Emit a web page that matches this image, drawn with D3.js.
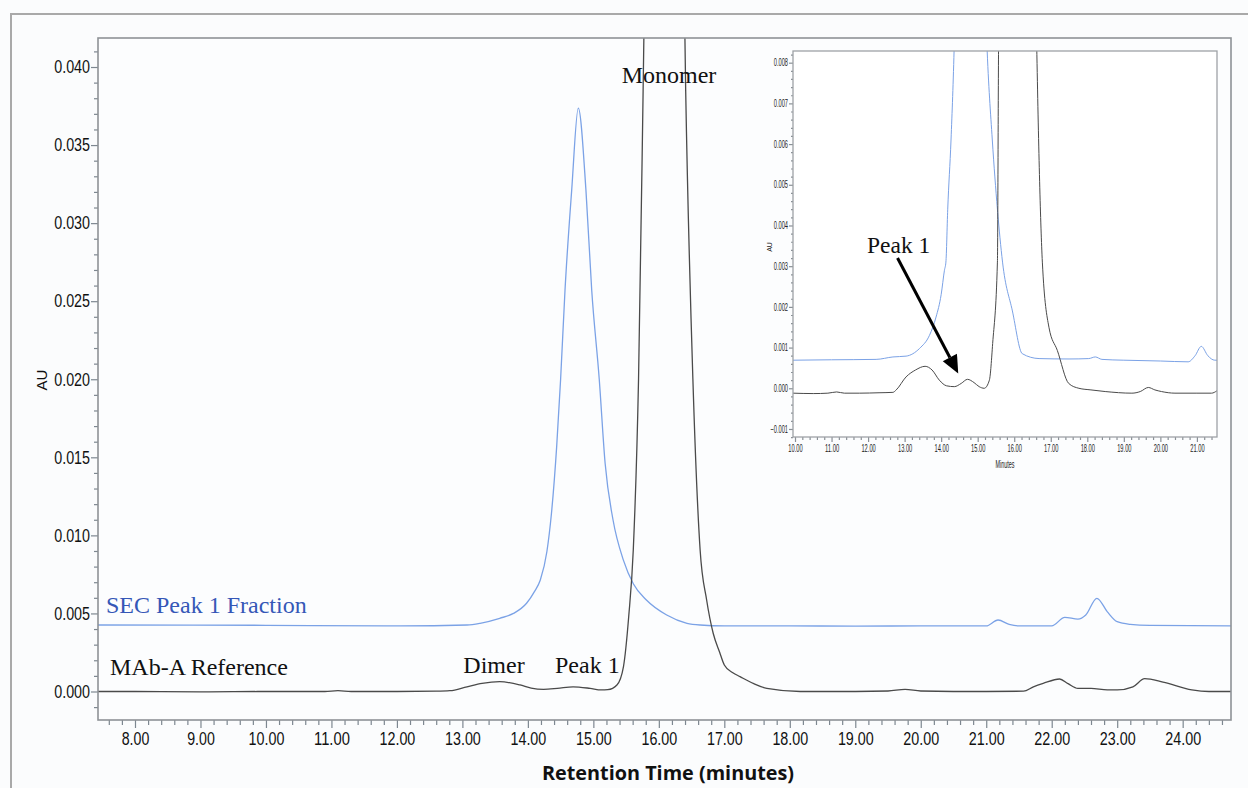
<!DOCTYPE html>
<html><head><meta charset="utf-8">
<script src="https://cdn.jsdelivr.net/npm/d3@7"></script>
<style>
html,body{margin:0;padding:0;background:#fbfcfd;}
svg{display:block;}
</style></head><body>
<svg id="chart" width="1248" height="788"></svg>
<script>
// ---------- DATA (main chromatogram) ----------
const refTime = [7.435, 8.0, 9.0, 10.0, 10.9, 11.1, 11.3, 12.0, 12.6, 12.81, 13.07, 13.3, 13.57, 13.88, 14.05, 14.24, 14.45, 14.69, 14.95, 15.12, 15.22, 15.36, 15.46, 15.54, 15.61, 15.69, 15.76, 15.85, 16.08, 16.32, 16.41, 16.52, 16.63, 16.73, 16.83, 16.93, 17.0, 17.13, 17.24, 17.45, 17.65, 18.16, 19.0, 19.5, 19.76, 20.0, 20.5, 21.0, 21.57, 21.72, 21.87, 22.12, 22.25, 22.4, 22.6, 22.85, 23.0, 23.24, 23.42, 23.7, 24.14, 24.4, 24.74];
const refAU   = [0.0, 0.0, -0.00002, 0.0, 0.0, 0.00005, 0.0, 0.0, 0.00002, 0.00005, 0.0003, 0.00052, 0.00063, 0.00042, 0.00022, 0.00014, 0.0002, 0.0003, 0.0002, 0.0001, 0.00012, 0.00042, 0.0016, 0.0048, 0.0091, 0.0200, 0.0385, 0.065, 0.11, 0.065, 0.0385, 0.0200, 0.0091, 0.00586, 0.00373, 0.0025, 0.0017, 0.0012, 0.00095, 0.0005, 0.0002, 0.0, 0.0, 0.00003, 0.00014, 0.00003, 0.0, 0.0, 0.00002, 0.0003, 0.00052, 0.0008, 0.0005, 0.0002, 0.0002, 0.0001, 0.0001, 0.0003, 0.00082, 0.0006, 0.0001, 0.0, 0.0];

const fracTime = [7.435, 10.0, 12.05, 13.07, 13.27, 13.57, 13.78, 13.98, 14.1, 14.19, 14.29, 14.36, 14.44, 14.50, 14.567, 14.669, 14.77, 14.887, 14.975, 15.09, 15.18, 15.30, 15.46, 15.61, 15.81, 16.12, 16.43, 16.63, 17.0, 18.0, 19.0, 20.0, 21.0, 21.18, 21.35, 21.5, 22.0, 22.2, 22.4, 22.52, 22.69, 22.85, 23.0, 23.2, 23.5, 24.74];
const fracAU   = [0.00426, 0.00424, 0.0042, 0.00426, 0.00437, 0.00469, 0.0050, 0.00565, 0.0064, 0.00714, 0.00895, 0.0114, 0.0157, 0.0200, 0.0257, 0.0321, 0.03736, 0.0321, 0.0257, 0.0200, 0.0146, 0.0110, 0.0084, 0.0069, 0.00586, 0.0049, 0.00437, 0.00426, 0.0042, 0.0042, 0.00419, 0.0042, 0.0042, 0.00458, 0.0043, 0.0042, 0.0042, 0.00475, 0.00464, 0.0049, 0.00597, 0.0051, 0.00447, 0.0043, 0.00423, 0.0042];

// ---------- DATA (inset) ----------
const insetRefTime = [9.945, 10.5, 10.9, 11.14, 11.35, 11.77, 12.3, 12.68, 12.77, 13.04, 13.3, 13.56, 13.75, 13.95, 14.15, 14.36, 14.55, 14.72, 14.9, 15.04, 15.18, 15.32, 15.41, 15.54, 15.57, 15.62, 16.1, 16.55, 16.62, 16.77, 16.95, 17.18, 17.49, 17.77, 18.1, 18.49, 19.22, 19.45, 19.67, 19.85, 20.03, 20.4, 21.0, 21.4, 21.55];
const insetRefAU   = [-0.00012, -0.00013, -0.00012, -0.00009, -0.00012, -0.00012, -0.00011, -0.0001, -0.00004, 0.00028, 0.00045, 0.00054, 0.00045, 0.0002, 0.00006, 0.00004, 0.00012, 0.00022, 0.00014, 0.00004, 0.0, 0.0002, 0.0011, 0.0031, 0.0082, 0.012, 0.1, 0.012, 0.0082, 0.0031, 0.0015, 0.00093, 0.00012, 0.0, -0.00004, -0.00008, -0.00012, -0.00008, 0.00002, -0.00004, -0.00008, -0.00012, -0.00012, -0.00012, -0.00006];

const insetFracTime = [9.945, 11.0, 12.22, 12.68, 13.04, 13.41, 13.68, 13.86, 14.0, 14.09, 14.13, 14.18, 14.27, 14.36, 14.5, 14.78, 15.05, 15.25, 15.40, 15.54, 15.68, 15.95, 16.22, 16.68, 17.5, 18.04, 18.22, 18.4, 19.0, 20.0, 20.76, 20.95, 21.12, 21.3, 21.49, 21.55];
const insetFracAU   = [0.00069, 0.0007, 0.00071, 0.00077, 0.00079, 0.00098, 0.0013, 0.00175, 0.0023, 0.0029, 0.0031, 0.0044, 0.0061, 0.0085, 0.015, 0.034, 0.015, 0.0085, 0.0061, 0.0044, 0.0031, 0.0019, 0.00085, 0.00073, 0.00072, 0.00073, 0.00077, 0.00071, 0.00069, 0.00067, 0.00065, 0.0008, 0.00103, 0.0008, 0.00069, 0.00069];

// ---------- TICKS ----------
const xTickValues = [8, 9, 10, 11, 12, 13, 14, 15, 16, 17, 18, 19, 20, 21, 22, 23, 24];
const yTickValues = [0.000, 0.005, 0.010, 0.015, 0.020, 0.025, 0.030, 0.035, 0.040];
const insetXTickValues = [10, 11, 12, 13, 14, 15, 16, 17, 18, 19, 20, 21];
const insetYTickValues = [-0.001, 0.000, 0.001, 0.002, 0.003, 0.004, 0.005, 0.006, 0.007, 0.008];

// ---------- LABELS ----------
const mainLabels = [
  {text: "SEC Peak 1 Fraction", t: 7.557, au: 0.00503, color: "#3557b7"},
  {text: "MAb-A Reference", t: 7.618, au: 0.00106, color: "#111"},
  {text: "Dimer", t: 13.014, au: 0.00117, color: "#111"},
  {text: "Peak 1", t: 14.414, au: 0.00117, color: "#111"},
  {text: "Monomer", t: 15.433, au: 0.0390, color: "#111"}
];
const insetLabel = {text: "Peak 1", t: 11.97, au: 0.00333};
const insetArrow = {from: [12.806, 0.0032], to: [14.468, 0.000366]};

// ---------- LAYOUT ----------
const svg = d3.select("#chart");
const M = {left: 98, top: 38, right: 1231, bottom: 720};
const I = {left: 793, top: 51, right: 1217, bottom: 437};
const lineBlack = "#4a4a4a", lineBlue = "#7ba2e6", frameCol = "#8e9296";

svg.append("rect").attr("width", 1248).attr("height", 788).attr("fill", "#fbfcfd");
// outer figure border
svg.append("path").attr("d", "M11,788 L11,14 L1248,14").attr("fill", "none").attr("stroke", "#a9a9a9").attr("stroke-width", 2);

const x = d3.scaleLinear().domain([7.435, 24.738]).range([M.left, M.right]);
const y = d3.scaleLinear().domain([-0.001826, 0.041858]).range([M.bottom, M.top]);

svg.append("rect").attr("x", M.left).attr("y", M.top).attr("width", M.right - M.left).attr("height", M.bottom - M.top).attr("fill", "#fcfdfe");

const defs = svg.append("defs");
defs.append("clipPath").attr("id", "mainClip").append("rect")
  .attr("x", M.left).attr("y", M.top).attr("width", M.right - M.left).attr("height", M.bottom - M.top);
defs.append("clipPath").attr("id", "insetClip").append("rect")
  .attr("x", I.left).attr("y", I.top).attr("width", I.right - I.left).attr("height", I.bottom - I.top);

const mainLine = d3.line().x(d => x(d[0])).y(d => y(d[1])).curve(d3.curveMonotoneX);
const gMain = svg.append("g").attr("clip-path", "url(#mainClip)");
gMain.append("path").datum(fracTime.map((t, i) => [t, fracAU[i]]))
  .attr("d", mainLine).attr("fill", "none").attr("stroke", lineBlue).attr("stroke-width", 1.3);
gMain.append("path").datum(refTime.map((t, i) => [t, refAU[i]]))
  .attr("d", mainLine).attr("fill", "none").attr("stroke", lineBlack).attr("stroke-width", 1.3);

// main axes
function styleAxis(g, col) {
  g.select(".domain").remove();
  g.selectAll("line").attr("stroke", col).attr("stroke-width", 1.2);
}
const xMinor = d3.range(7.6, 24.7, 0.2).filter(v => Math.abs(v - Math.round(v)) > 0.01);
const gxMinor = svg.append("g").attr("transform", `translate(0,${M.bottom})`)
  .call(d3.axisBottom(x).tickValues(xMinor).tickSize(5).tickFormat(""));
styleAxis(gxMinor, "#7d8790");
const gx = svg.append("g").attr("transform", `translate(0,${M.bottom})`)
  .call(d3.axisBottom(x).tickValues(xTickValues).tickSize(8).tickPadding(4).tickFormat(d3.format(".2f")));
styleAxis(gx, "#7d8790");
gx.selectAll("text").attr("font-family", "'Liberation Sans', Arial, sans-serif").attr("font-size", 18).attr("fill", "#111")
  .attr("textLength", function() { const s = this.textContent; return (s.length - 1) * 8.2 + 3; })
  .attr("lengthAdjust", "spacingAndGlyphs");

const yMinor = d3.range(-0.001, 0.0415, 0.001).filter(v => Math.abs(v / 0.005 - Math.round(v / 0.005)) > 0.01);
const gyMinor = svg.append("g").attr("transform", `translate(${M.left},0)`)
  .call(d3.axisLeft(y).tickValues(yMinor).tickSize(4).tickFormat(""));
styleAxis(gyMinor, "#7d8790");
const gy = svg.append("g").attr("transform", `translate(${M.left},0)`)
  .call(d3.axisLeft(y).tickValues(yTickValues).tickSize(7).tickPadding(1).tickFormat(d3.format(".3f")));
styleAxis(gy, "#7d8790");
gy.selectAll("text").attr("font-family", "'Liberation Sans', Arial, sans-serif").attr("font-size", 18).attr("fill", "#111")
  .attr("textLength", function() { const s = this.textContent; return (s.length - 1) * 8.2 + 3; })
  .attr("lengthAdjust", "spacingAndGlyphs");

// main frame
svg.append("rect").attr("x", M.left).attr("y", M.top).attr("width", M.right - M.left).attr("height", M.bottom - M.top)
  .attr("fill", "none").attr("stroke", frameCol).attr("stroke-width", 1.6);

// axis titles
svg.append("text").attr("x", 668).attr("y", 780).attr("text-anchor", "middle")
  .attr("font-family", "'Open Sans', sans-serif").attr("font-weight", "bold").attr("font-size", 20).attr("fill", "#111")
  .attr("textLength", 252).attr("lengthAdjust", "spacingAndGlyphs").text("Retention Time (minutes)");
svg.append("text").attr("transform", "translate(47,380) rotate(-90)").attr("text-anchor", "middle")
  .attr("font-family", "'Liberation Sans', Arial, sans-serif").attr("font-size", 15).attr("fill", "#111").text("AU");

// annotations
svg.selectAll("text.ann").data(mainLabels).join("text").attr("class", "ann")
  .attr("x", d => x(d.t)).attr("y", d => y(d.au))
  .attr("font-family", "'Liberation Serif', 'Times New Roman', serif").attr("font-size", 24)
  .attr("fill", d => d.color).text(d => d.text);

// ---------- INSET ----------
const xi = d3.scaleLinear().domain([9.945, 21.55]).range([I.left, I.right]);
const yi = d3.scaleLinear().domain([-0.001197, 0.008287]).range([I.bottom, I.top]);
svg.append("rect").attr("x", I.left).attr("y", I.top).attr("width", I.right - I.left).attr("height", I.bottom - I.top).attr("fill", "#ffffff");

const insetLine = d3.line().x(d => xi(d[0])).y(d => yi(d[1])).curve(d3.curveMonotoneX);
const gIn = svg.append("g").attr("clip-path", "url(#insetClip)");
gIn.append("path").datum(insetFracTime.map((t, i) => [t, insetFracAU[i]]))
  .attr("d", insetLine).attr("fill", "none").attr("stroke", lineBlue).attr("stroke-width", 1);
gIn.append("path").datum(insetRefTime.map((t, i) => [t, insetRefAU[i]]))
  .attr("d", insetLine).attr("fill", "none").attr("stroke", lineBlack).attr("stroke-width", 1);

const ixMinor = d3.range(10.0, 21.55, 0.2).filter(v => Math.abs(v - Math.round(v)) > 0.01);
const gixm = svg.append("g").attr("transform", `translate(0,${I.bottom})`)
  .call(d3.axisBottom(xi).tickValues(ixMinor).tickSize(3).tickFormat(""));
styleAxis(gixm, "#8a9096");
const gix = svg.append("g").attr("transform", `translate(0,${I.bottom})`)
  .call(d3.axisBottom(xi).tickValues(insetXTickValues).tickSize(5).tickPadding(3).tickFormat(d3.format(".2f")));
styleAxis(gix, "#8a9096");
gix.selectAll("text").attr("font-family", "'Liberation Sans', Arial, sans-serif").attr("font-size", 10).attr("fill", "#222")
  .attr("textLength", function() { const s = this.textContent; return (s.length - 1) * 3.2 + 1.5; })
  .attr("lengthAdjust", "spacingAndGlyphs");

const iyMinor = d3.range(-0.0012, 0.0083, 0.0002).filter(v => Math.abs(v / 0.001 - Math.round(v / 0.001)) > 0.01);
const giym = svg.append("g").attr("transform", `translate(${I.left},0)`)
  .call(d3.axisLeft(yi).tickValues(iyMinor).tickSize(2).tickFormat(""));
styleAxis(giym, "#8a9096");
const giy = svg.append("g").attr("transform", `translate(${I.left},0)`)
  .call(d3.axisLeft(yi).tickValues(insetYTickValues).tickSize(4).tickPadding(1).tickFormat(d3.format(".3f")));
styleAxis(giy, "#8a9096");
giy.selectAll("text").attr("font-family", "'Liberation Sans', Arial, sans-serif").attr("font-size", 10).attr("fill", "#222")
  .attr("textLength", function() { const s = this.textContent.replace("\u2212", "-"); return (s.length - 1) * 3.2 + 1.5 + (s[0] === "-" || this.textContent[0] === "\u2212" ? 0 : 0); })
  .attr("lengthAdjust", "spacingAndGlyphs");

svg.append("rect").attr("x", I.left).attr("y", I.top).attr("width", I.right - I.left).attr("height", I.bottom - I.top)
  .attr("fill", "none").attr("stroke", "#9ea2a6").attr("stroke-width", 1.3);

svg.append("text").attr("x", 1005).attr("y", 468).attr("text-anchor", "middle")
  .attr("font-family", "'Liberation Sans', Arial, sans-serif").attr("font-size", 10).attr("fill", "#222")
  .attr("textLength", 19).attr("lengthAdjust", "spacingAndGlyphs").text("Minutes");
svg.append("text").attr("transform", "translate(772,247) rotate(-90)").attr("text-anchor", "middle")
  .attr("font-family", "'Liberation Sans', Arial, sans-serif").attr("font-size", 7).attr("fill", "#222").text("AU");

svg.append("text").attr("x", xi(insetLabel.t)).attr("y", yi(insetLabel.au))
  .attr("font-family", "'Liberation Serif', 'Times New Roman', serif").attr("font-size", 23.5).attr("fill", "#111")
  .text(insetLabel.text);

// arrow
const ax0 = xi(insetArrow.from[0]), ay0 = yi(insetArrow.from[1]);
const ax1 = xi(insetArrow.to[0]), ay1 = yi(insetArrow.to[1]);
const ang = Math.atan2(ay1 - ay0, ax1 - ax0);
const headLen = 18, headW = 8;
const bx = ax1 - headLen * Math.cos(ang), by = ay1 - headLen * Math.sin(ang);
svg.append("line").attr("x1", ax0).attr("y1", ay0).attr("x2", bx).attr("y2", by)
  .attr("stroke", "#000").attr("stroke-width", 3);
svg.append("path").attr("d", d3.line()([
  [ax1, ay1],
  [bx + headW * Math.sin(ang), by - headW * Math.cos(ang)],
  [bx - headW * Math.sin(ang), by + headW * Math.cos(ang)]
]) + "Z").attr("fill", "#000");
</script>
</body></html>
